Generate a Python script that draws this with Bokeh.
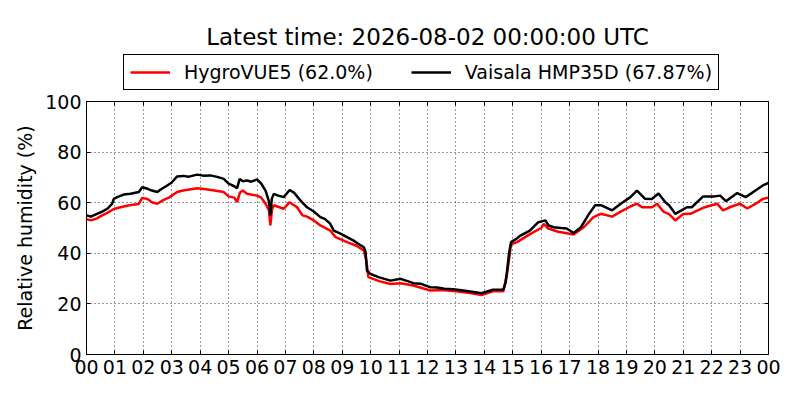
from bokeh.plotting import figure
from bokeh.models import (Range1d, FixedTicker, LinearAxis, Legend, LegendItem)
from bokeh.layouts import column
from bokeh.embed import file_html
from bokeh.resources import INLINE

# ---- data (hours since 00 UTC, relative humidity %) ----
black_t = [0.00, 0.15, 0.37, 0.55, 0.73, 0.90, 0.96, 1.10, 1.31, 1.55, 1.84, 1.96, 2.15, 2.30,
           2.49, 2.65, 2.84, 3.00, 3.19, 3.40, 3.60, 3.90, 4.10, 4.36, 4.60, 4.83, 5.00, 5.20,
           5.30, 5.39, 5.50, 5.65, 5.80, 6.00, 6.15, 6.30, 6.42, 6.47, 6.52, 6.59, 6.75, 6.94,
           7.15, 7.30, 7.41, 7.60, 7.76, 8.00, 8.23, 8.40, 8.58, 8.70, 8.90, 9.17, 9.40, 9.60,
           9.76, 9.82, 9.87, 9.99, 10.30, 10.70, 11.05, 11.30, 11.50, 11.75, 12.10, 12.34, 12.60,
           12.90, 13.20, 13.50, 13.90, 14.30, 14.67, 14.75, 14.80, 14.87, 14.94, 15.10, 15.27,
           15.60, 15.90, 16.15, 16.26, 16.44, 16.70, 16.90, 17.14, 17.40, 17.65, 17.90, 18.10,
           18.50, 18.80, 19.14, 19.37, 19.65, 19.90, 20.13, 20.37, 20.50, 20.72, 21.13, 21.30,
           21.70, 22.10, 22.30, 22.50, 22.90, 23.20, 23.54, 23.80, 24.00]
black_rh = [55.0, 54.5, 55.6, 56.5, 57.6, 59.5, 61.5, 62.3, 63.2, 63.5, 64.2, 66.1, 65.5, 64.8,
            64.2, 65.5, 66.8, 68.0, 70.4, 70.6, 70.3, 71.1, 70.7, 70.8, 70.2, 69.4, 67.5, 66.5,
            65.7, 69.4, 68.5, 68.8, 68.3, 69.2, 67.5, 64.8, 60.5, 55.0, 61.5, 63.5, 62.8, 62.2,
            65.0, 64.0, 62.5, 60.0, 58.2, 56.5, 54.3, 53.5, 51.6, 49.0, 48.0, 46.4, 45.0, 43.5,
            42.4, 40.5, 33.2, 31.9, 30.5, 29.2, 29.9, 29.0, 28.2, 28.0, 26.6, 26.5, 26.0,
            25.8, 25.4, 24.9, 24.2, 25.6, 25.6, 28.5, 33.0, 40.0, 44.4, 45.5, 47.0,
            49.0, 52.3, 53.0, 51.0, 50.3, 50.0, 49.8, 48.0, 50.3, 55.0, 59.0, 59.0,
            57.0, 59.6, 62.2, 64.8, 61.6, 61.5, 63.6, 60.2, 59.0, 55.6, 58.2, 58.2,
            62.5, 62.5, 62.8, 60.6, 63.8, 62.2, 64.8, 66.8, 67.87]

red_t = [0.00, 0.15, 0.37, 0.55, 0.73, 0.96, 1.20, 1.50, 1.84, 1.96, 2.15, 2.30, 2.49, 2.70,
         2.90, 3.19, 3.40, 3.90, 4.20, 4.50, 4.83, 5.00, 5.20, 5.30, 5.40, 5.50, 5.65, 6.00,
         6.15, 6.30, 6.42, 6.47, 6.53, 6.59, 6.94, 7.15, 7.41, 7.60, 7.76, 8.00, 8.23, 8.58,
         8.75, 9.17, 9.50, 9.76, 9.85, 9.92, 10.30, 10.70, 11.05, 11.50, 12.10, 12.50, 13.00,
         13.50, 13.90, 14.30, 14.67, 14.80, 14.94, 15.15, 15.62, 16.00, 16.09, 16.25, 16.60,
         17.00, 17.14, 17.50, 17.84, 18.10, 18.50, 18.80, 19.14, 19.37, 19.55, 19.90, 20.08,
         20.30, 20.50, 20.72, 21.00, 21.25, 21.70, 22.19, 22.40, 22.70, 23.00, 23.25, 23.54,
         23.80, 24.00]
red_rh = [53.5, 53.0, 53.8, 55.0, 56.0, 57.5, 58.2, 59.0, 59.5, 61.9, 61.5, 60.2, 59.6, 61.0,
          62.0, 64.2, 64.8, 65.7, 65.3, 64.8, 64.2, 62.5, 62.0, 60.2, 64.0, 64.8, 63.5, 62.8,
          62.0, 59.6, 57.0, 51.0, 57.5, 59.0, 57.6, 60.2, 58.2, 55.0, 54.5, 53.0, 51.0, 49.0,
          46.5, 44.4, 43.0, 41.1, 37.0, 30.6, 29.0, 27.9, 28.2, 27.3, 25.3, 25.5, 25.0,
          24.3, 23.5, 25.0, 25.0, 32.0, 43.5, 44.4, 47.7, 50.0, 51.6, 49.8, 48.5,
          47.7, 47.4, 50.3, 54.3, 55.6, 54.5, 56.5, 58.5, 59.6, 58.2, 58.2, 59.6,
          56.5, 55.5, 53.0, 55.5, 55.6, 58.0, 59.6, 57.0, 58.5, 59.6, 57.7, 59.5,
          61.5, 62.0]

hour_ticks = list(range(25))
hour_labels = ["%02d" % (h % 24) for h in hour_ticks]
rh_ticks = [0, 20, 40, 60, 80, 100]

title_text = "Latest time: 2026-08-02 00:00:00 UTC"
red_name = "HygroVUE5"
black_name = "Vaisala HMP35D"
red_color = "red"
black_color = "black"

FONT = "DejaVu Sans"
LW = 2.5

# ---------------- header figure: title + legend ----------------
# its y range lies far above the data, so its copies of the lines stay out of view
head = figure(width=796, height=92,
              min_border_left=86, min_border_right=28, min_border_top=54, min_border_bottom=0,
              x_range=Range1d(0, 24), y_range=Range1d(1000, 1001),
              output_backend="svg", toolbar_location=None, tools="")
head.axis.visible = False
head.grid.visible = False
head.outline_line_color = None
head.title.text = title_text
head.title.align = "center"
head.title.text_font = FONT
head.title.text_font_size = "23px"
head.title.text_font_style = "normal"
head.title.text_color = "black"

lr = head.line(red_t, red_rh, line_color=red_color, line_width=LW)
lb = head.line(black_t, black_rh, line_color=black_color, line_width=LW)

legend = Legend(items=[
    LegendItem(label="%s (%s%%)" % (red_name, red_rh[-1]), renderers=[lr]),
    LegendItem(label="%s (%s%%)" % (black_name, black_rh[-1]), renderers=[lb]),
], orientation="horizontal", location=(37, 2))
legend.label_text_font = FONT
legend.label_text_font_size = "19px"
legend.label_text_color = "black"
legend.glyph_width = 40
legend.glyph_height = 20
legend.label_standoff = 14
legend.spacing = 38
legend.padding = 6
legend.margin = 0
legend.border_line_color = "black"
legend.border_line_width = 1
legend.border_line_alpha = 1
head.add_layout(legend)

# ---------------- main figure ----------------
p = figure(width=796, height=304,
           min_border_left=86, min_border_right=28, min_border_top=9, min_border_bottom=42,
           x_range=Range1d(0, 24), y_range=Range1d(0, 100),
           output_backend="svg", toolbar_location=None, tools="")

p.outline_line_color = "black"
p.outline_line_width = 1
p.outline_line_alpha = 1

p.line(red_t, red_rh, line_color=red_color, line_width=LW)
p.line(black_t, black_rh, line_color=black_color, line_width=LW)

xa = p.xaxis[0]
xa.ticker = FixedTicker(ticks=hour_ticks)
xa.major_label_overrides = {h: lab for h, lab in zip(hour_ticks, hour_labels)}
ya = p.yaxis[0]
ya.ticker = FixedTicker(ticks=rh_ticks)
ya.axis_label = "Relative humidity (%)"
ya.axis_label_text_font = FONT
ya.axis_label_text_font_size = "19px"
ya.axis_label_text_font_style = "normal"
ya.axis_label_text_color = "black"
ya.axis_label_standoff = 6
for ax in (xa, ya):
    ax.axis_line_color = None
    ax.major_tick_in = 4
    ax.major_tick_out = 0
    ax.minor_tick_line_color = None
    ax.major_tick_line_color = "black"
    ax.major_label_text_font = FONT
    ax.major_label_text_font_size = "19px"
    ax.major_label_text_color = "black"
    ax.major_label_standoff = 5

# tick marks on top and right (no labels), as in the reference
xt = LinearAxis(ticker=FixedTicker(ticks=hour_ticks), axis_line_color=None,
                major_tick_in=4, major_tick_out=0, minor_tick_line_color=None,
                major_label_text_font_size="1px", major_label_text_alpha=0,
                major_label_standoff=0)
yr = LinearAxis(ticker=FixedTicker(ticks=rh_ticks), axis_line_color=None,
                major_tick_in=4, major_tick_out=0, minor_tick_line_color=None,
                major_label_text_font_size="1px", major_label_text_alpha=0,
                major_label_standoff=0)
p.add_layout(xt, "above")
p.add_layout(yr, "right")

for g in (p.xgrid[0], p.ygrid[0]):
    g.grid_line_color = "black"
    g.grid_line_dash = "1 3"
    g.grid_line_width = 1
    g.grid_line_alpha = 0.8
p.xgrid[0].ticker = FixedTicker(ticks=hour_ticks)
p.ygrid[0].ticker = FixedTicker(ticks=rh_ticks)

layout = column(head, p, spacing=0)
open("out.html", "w").write(file_html(layout, INLINE))
